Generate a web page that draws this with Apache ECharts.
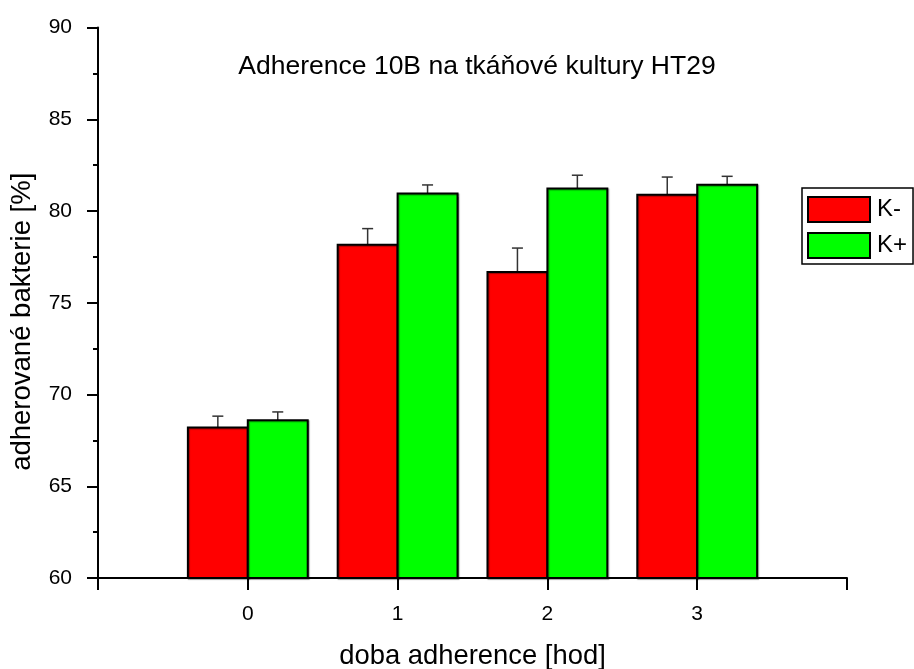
<!DOCTYPE html>
<html>
<head>
<meta charset="utf-8">
<script src="https://cdn.jsdelivr.net/npm/echarts@6/dist/echarts.min.js"></script>
<style>
  html, body { margin: 0; padding: 0; background: #fff; }
  #chart { width: 914px; height: 669px; }
</style>
</head>
<body>
<div id="chart"></div>
<script>
// Adherence time (hours) and adhered bacteria (%) with standard deviations
const hours = [0, 1, 2, 3];
const kMinus = [68.2, 78.16, 76.68, 80.89];
const kMinusErr = [0.62, 0.88, 1.3, 0.96];
const kPlus = [68.6, 80.96, 81.22, 81.43];
const kPlusErr = [0.45, 0.46, 0.73, 0.46];
const yTicks = [60, 65, 70, 75, 80, 85, 90];

const FONT = 'Liberation Sans';
const BAR_W = 0.4;
const BASE = 60;

function barSeries(name, values, color, offset) {
  return {
    name: name,
    type: 'custom',
    data: hours.map((h, i) => [h, values[i]]),
    z: 2,
    renderItem: function (params, api) {
      const x = api.value(0) + offset;
      const p0 = api.coord([x, api.value(1)]);
      const p1 = api.coord([x + BAR_W, BASE]);
      return {
        type: 'rect',
        shape: { x: p0[0], y: p0[1], width: p1[0] - p0[0], height: p1[1] - p0[1] },
        style: {
          fill: color, stroke: '#000', lineWidth: 2,
          shadowColor: 'rgba(0,0,0,0.35)', shadowBlur: 1, shadowOffsetX: 1, shadowOffsetY: 1
        }
      };
    }
  };
}

function errSeries(name, values, errs, offset) {
  return {
    name: name,
    type: 'custom',
    data: hours.map((h, i) => [h, values[i], errs[i]]),
    z: 1,
    silent: true,
    renderItem: function (params, api) {
      const x = api.value(0) + offset + BAR_W / 2;
      const v = api.value(1);
      const top = api.coord([x, v + api.value(2)]);
      const bot = api.coord([x, v]);
      const half = 5.5;
      return {
        type: 'group',
        children: [
          { type: 'line', shape: { x1: top[0], y1: top[1], x2: bot[0], y2: bot[1] },
            style: { stroke: '#333', lineWidth: 1.5 } },
          { type: 'line', shape: { x1: top[0] - half, y1: top[1], x2: top[0] + half, y2: top[1] },
            style: { stroke: '#333', lineWidth: 1.5 } }
        ]
      };
    }
  };
}

const chart = echarts.init(document.getElementById('chart'), null, { renderer: 'canvas' });

chart.setOption({
  animation: false,
  backgroundColor: '#fff',
  textStyle: { fontFamily: FONT },
  title: {
    text: 'Adherence 10B na tkáňové kultury HT29',
    left: 472, top: 48, textAlign: 'center',
    textStyle: { fontFamily: FONT, fontSize: 26.5, fontWeight: 'normal', color: '#000' }
  },
  legend: {
    left: 802, top: 188,
    orient: 'vertical',
    padding: [8, 6, 5, 5],
    itemGap: 9,
    itemWidth: 62, itemHeight: 25,
    borderColor: '#000', borderWidth: 1.5,
    backgroundColor: '#fff',
    selectedMode: false,
    textStyle: { fontFamily: FONT, fontSize: 24, lineHeight: 25, color: '#000', padding: [0, 0, 0, 2] },
    data: [
      { name: 'K-', icon: 'rect', itemStyle: { color: '#ff0000', borderColor: '#000', borderWidth: 2 } },
      { name: 'K+', icon: 'rect', itemStyle: { color: '#00ff00', borderColor: '#000', borderWidth: 2 } }
    ]
  },
  grid: { left: 98, right: 67, top: 27.5, bottom: 91, containLabel: false, outerBoundsMode: 'none' },
  xAxis: {
    type: 'value',
    min: -1, max: 4, interval: 1,
    name: 'doba adherence [hod]',
    nameLocation: 'middle', nameGap: 65,
    nameTextStyle: { fontFamily: FONT, fontSize: 27.4, color: '#000' },
    axisLine: { onZero: false, lineStyle: { color: '#000', width: 2 } },
    axisTick: { show: true, inside: false, length: 12, lineStyle: { color: '#000', width: 2 } },
    axisLabel: {
      margin: 26, fontFamily: FONT, fontSize: 21, color: '#000',
      formatter: v => (hours.indexOf(v) >= 0 ? String(v) : '')
    },
    splitLine: { show: false }
  },
  yAxis: {
    type: 'value',
    min: yTicks[0], max: yTicks[yTicks.length - 1], interval: 5,
    name: 'adherované bakterie [%]',
    nameLocation: 'middle', nameGap: 62,
    nameTextStyle: { fontFamily: FONT, fontSize: 27.5, color: '#000', padding: [0, 38, 0, 0] },
    axisLine: { show: true, onZero: false, lineStyle: { color: '#000', width: 2 } },
    axisTick: { show: true, inside: false, length: 11, lineStyle: { color: '#000', width: 2 } },
    minorTick: { show: true, splitNumber: 2, length: 5, lineStyle: { color: '#000', width: 2 } },
    axisLabel: { margin: 26, fontFamily: FONT, fontSize: 21, color: '#000' },
    splitLine: { show: false }
  },
  series: [
    errSeries('K- err', kMinus, kMinusErr, -BAR_W),
    errSeries('K+ err', kPlus, kPlusErr, 0),
    barSeries('K-', kMinus, '#ff0000', -BAR_W),
    barSeries('K+', kPlus, '#00ff00', 0)
  ]
});
</script>
</body>
</html>
